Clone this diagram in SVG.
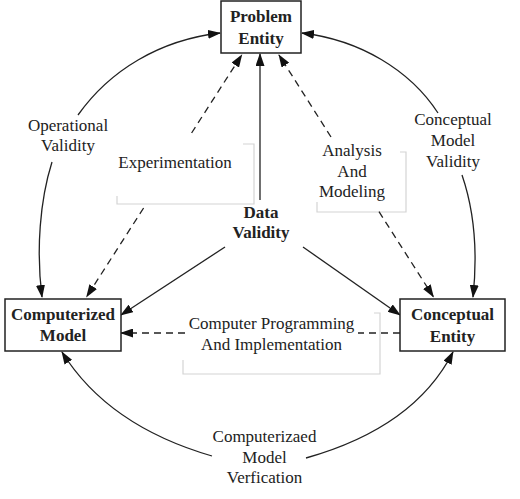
<svg xmlns="http://www.w3.org/2000/svg" width="520" height="499" viewBox="0 0 520 499">
<style>
.box{fill:#fff;stroke:#222;stroke-width:1.5}
.bt{font-family:"Liberation Serif",serif;font-weight:bold;font-size:17px;fill:#222;text-anchor:middle}
.t{font-family:"Liberation Serif",serif;font-size:17px;fill:#222;text-anchor:middle}
.ln{fill:none;stroke:#222;stroke-width:1.3}
.ds{fill:none;stroke:#222;stroke-width:1.3;stroke-dasharray:7,5}
.gr{fill:none;stroke:#d4d4d4;stroke-width:1.2}
</style>
<defs>
<marker id="ah" markerUnits="userSpaceOnUse" markerWidth="13" markerHeight="9" refX="12" refY="4.5" orient="auto">
<path d="M0,0 L13,4.5 L0,9 z" fill="#111"/>
</marker>
</defs>
<rect width="520" height="499" fill="#fff"/>
<g id="labels-frames">
<path class="gr" d="M243,144 H254 V204 H117 V196"/>
<path class="gr" d="M400,152 H406 V212 H317 V202"/>
<path class="gr" d="M374,313 H380 V374 H183 V360"/>
</g>
<g id="connectors">
<path class="ln" d="M78,115 C110,70 160,40 220,33" marker-end="url(#ah)"/>
<path class="ln" d="M52,162 C40,200 36,250 42,297" marker-end="url(#ah)"/>
<path class="ln" d="M438,113 C410,70 360,40 302,33" marker-end="url(#ah)"/>
<path class="ln" d="M462,175 C474,210 478,250 473,297" marker-end="url(#ah)"/>
<path class="ln" d="M212,456 C150,438 95,405 62,352" marker-end="url(#ah)"/>
<path class="ln" d="M306,458 C370,440 425,407 453,352" marker-end="url(#ah)"/>
<path class="ln" d="M260,200 L260,54" marker-end="url(#ah)"/>
<path class="ln" d="M225,247 L121,315" marker-end="url(#ah)"/>
<path class="ln" d="M303,247 L400,315" marker-end="url(#ah)"/>
<path class="ds" d="M143.6,208 L86.7,296.7" marker-end="url(#ah)"/>
<path class="ds" d="M191.6,133 L241.7,55" marker-end="url(#ah)"/>
<path class="ds" d="M331,137 L279,55" marker-end="url(#ah)"/>
<path class="ds" d="M379,211.7 L433.3,296.7" marker-end="url(#ah)"/>
<path class="ds" d="M185,333 L121,333" marker-end="url(#ah)"/>
<path class="ds" d="M400,333 L358,333"/>
<text class="t" x="68" y="131">Operational</text>
<text class="t" x="68" y="151">Validity</text>
<text class="t" x="175" y="168">Experimentation</text>
<text class="t" x="352" y="156">Analysis</text>
<text class="t" x="352" y="177">And</text>
<text class="t" x="352" y="197">Modeling</text>
<text class="t" x="453" y="125">Conceptual</text>
<text class="t" x="453" y="146">Model</text>
<text class="t" x="453" y="167">Validity</text>
<text class="t" x="271.5" y="329">Computer Programming</text>
<text class="t" x="271.5" y="350">And Implementation</text>
<text class="t" x="264.5" y="442">Computerizaed</text>
<text class="t" x="264.5" y="463">Model</text>
<text class="t" x="264.5" y="483">Verfication</text>
<text class="bt" x="261" y="218">Data</text>
<text class="bt" x="261" y="238">Validity</text>
</g>
<g id="problem-entity">
<rect class="box" x="221" y="1" width="80" height="52"/>
<text class="bt" x="261" y="22">Problem</text>
<text class="bt" x="261" y="44">Entity</text>
</g>
<g id="computerized-model">
<rect class="box" x="5" y="299" width="116" height="52"/>
<text class="bt" x="63" y="320">Computerized</text>
<text class="bt" x="63" y="341">Model</text>
</g>
<g id="conceptual-entity">
<rect class="box" x="400" y="299" width="105" height="52"/>
<text class="bt" x="452.5" y="320">Conceptual</text>
<text class="bt" x="452.5" y="342">Entity</text>
</g>
</svg>
